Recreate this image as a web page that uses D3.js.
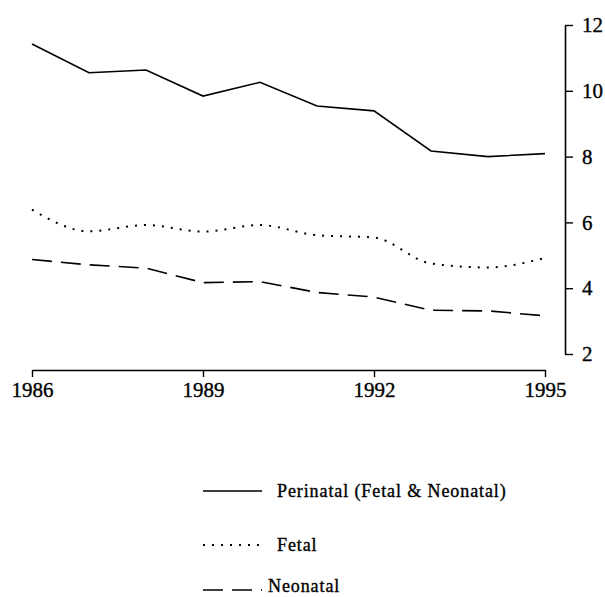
<!DOCTYPE html>
<html>
<head>
<meta charset="utf-8">
<script src="https://cdn.jsdelivr.net/npm/d3@7"></script>
<style>
  html, body { margin: 0; padding: 0; background: #fff; }
  svg { display: block; }
</style>
</head>
<body>
<svg id="chart" width="605" height="597"></svg>
<script>
const years = [1986, 1987, 1988, 1989, 1990, 1991, 1992, 1993, 1994, 1995];
const perinatal = [11.42, 10.55, 10.63, 9.84, 10.26, 9.54, 9.39, 8.17, 8.0, 8.09];
const fetal = [6.39, 5.73, 5.92, 5.72, 5.92, 5.61, 5.54, 4.75, 4.63, 4.92];
const neonatal = [4.87, 4.71, 4.61, 4.17, 4.2, 3.87, 3.73, 3.33, 3.31, 3.16];
const xTicks = [1986, 1989, 1992, 1995];
const yTicks = [2, 4, 6, 8, 10, 12];
const seriesNames = ["Perinatal (Fetal & Neonatal)", "Fetal", "Neonatal"];

const FONT = "'Liberation Serif', 'Times New Roman', Times, serif";

const svg = d3.select("#chart");
const x = d3.scaleLinear().domain([1986, 1995]).range([32, 545]);
const y = d3.scaleLinear().domain([2, 12]).range([354, 25]);

const series = [
  { name: seriesNames[0], values: perinatal, dash: null, curve: d3.curveLinear },
  { name: seriesNames[1], values: fetal, dash: "2,7", curve: d3.curveMonotoneX },
  { name: seriesNames[2], values: neonatal, dash: "20,9", curve: d3.curveLinear }
];

function styleText(sel, size) {
  sel.attr("font-family", FONT)
     .style("font-family", FONT)
     .style("font-size", size + "px")
     .attr("fill", "#000")
     .attr("stroke", "#000")
     .attr("stroke-width", 0.35);
}

// X axis
const xAxis = svg.append("g")
  .attr("transform", "translate(0,370)")
  .call(d3.axisBottom(x).tickValues(xTicks).tickFormat(d3.format("d")).tickSize(7).tickSizeOuter(0).tickPadding(5));
xAxis.attr("font-family", FONT);
xAxis.select(".domain").attr("stroke-width", 1.6);
xAxis.selectAll(".tick line").attr("stroke-width", 1.4);
styleText(xAxis.selectAll(".tick text"), 21);

// Y axis
const yAxis = svg.append("g")
  .attr("transform", "translate(565,0)")
  .call(d3.axisRight(y).tickValues(yTicks).tickSize(8).tickSizeOuter(0).tickPadding(9));
yAxis.attr("font-family", FONT);
yAxis.select(".domain").attr("stroke-width", 1.6);
yAxis.selectAll(".tick line").attr("stroke-width", 1.4);
styleText(yAxis.selectAll(".tick text"), 21);

// Lines
series.forEach(s => {
  const line = d3.line()
    .x((d, i) => x(years[i]))
    .y(d => y(d))
    .curve(s.curve);
  svg.append("path")
    .datum(s.values)
    .attr("d", line)
    .attr("fill", "none")
    .attr("stroke", "#000")
    .attr("stroke-width", s.dash === "2,7" ? 2 : 1.6)
    .attr("stroke-dasharray", s.dash);
});

// Legend
const legendY = [491, 545, 590];
series.forEach((s, i) => {
  const g = svg.append("g").attr("transform", `translate(0,${legendY[i]})`);
  g.append("line")
    .attr("x1", 203).attr("x2", 262)
    .attr("y1", 0).attr("y2", 0)
    .attr("stroke", "#000")
    .attr("stroke-width", s.dash === "2,7" ? 2 : 1.6)
    .attr("stroke-dasharray", s.dash);
  const t = g.append("text")
    .attr("x", i === 2 ? 268 : 277)
    .attr("y", i === 2 ? 2 : 6)
    .style("letter-spacing", "0.9px")
    .text(s.name);
  styleText(t, 18);
});
</script>
</body>
</html>
